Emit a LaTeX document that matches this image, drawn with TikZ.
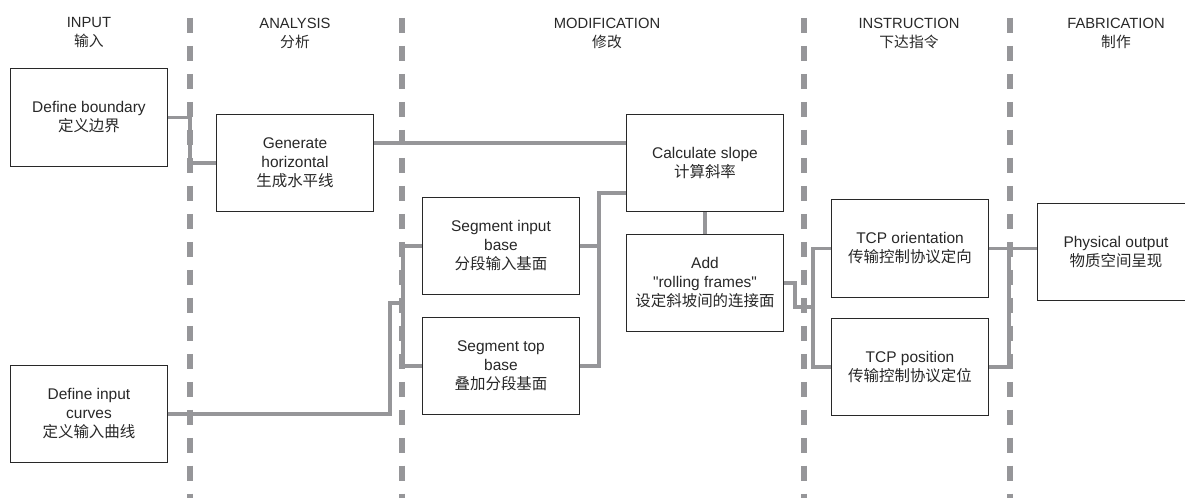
\documentclass[tikz,border=0pt]{standalone}
\usepackage{fontspec}
\setmainfont{Liberation Sans}[Ligatures=TeXOff]
\newfontfamily\cjk{Noto Sans CJK SC}
\usepackage{xcolor}
\definecolor{wiregray}{RGB}{150,150,153}
\definecolor{inkgray}{RGB}{40,40,40}

\begin{document}
\begin{tikzpicture}[
			x=0.025cm, y=-0.025cm,
			font=\fontsize{11}{13.5}\selectfont,
			box/.style={draw=inkgray, line width=0.7pt, text=inkgray, fill=white,
				minimum width=3.9cm, minimum height=2.44cm, align=center, inner sep=0pt},
			head/.style={text=inkgray, align=center, font=\fontsize{10.5}{13.5}\selectfont},
			wire/.style={draw=wiregray, line width=2.8pt},
			sep/.style={draw=wiregray, line width=3.6pt, dash pattern=on 10.6pt off 9.3pt}
		]

		\useasboundingbox (0,0) rectangle (1185,498);
		\clip (0,0) rectangle (1185,498);

		%% Stage separators
		\foreach \x in {190,402,804,1010}
			\draw[sep] (\x,18) -- (\x,498);

		%% Stage headings
		\node[head] (hin)  at (89,33)   {INPUT\\{\cjk 输入}};
		\node[head] (han)  at (295,33)  {ANALYSIS\\{\cjk 分析}};
		\node[head] (hmod) at (607,33)  {MODIFICATION\\{\cjk 修改}};
		\node[head] (hins) at (909,33)  {INSTRUCTION\\{\cjk 下达指令}};
		\node[head] (hfab) at (1116,33) {FABRICATION\\{\cjk 制作}};

		%% 1. Input
		\node[box] (defb) at (89,117.5) {Define boundary\\{\cjk 定义边界}};
		\node[box] (defc) at (89,414)   {Define input\\curves\\{\cjk 定义输入曲线}};

		%% 2. Analysis
		\node[box] (genh) at (295,163) {Generate\\horizontal\\{\cjk 生成水平线}};

		%% 3. Modification
		\node[box] (segi) at (501,246) {Segment input\\base\\{\cjk 分段输入基面}};
		\node[box] (segt) at (501,366) {Segment top\\base\\{\cjk 叠加分段基面}};
		\node[box] (calc) at (705,163) {Calculate slope\\{\cjk 计算斜率}};
		\node[box] (addr) at (705,283) {Add\\"rolling frames"\\{\cjk 设定斜坡间的连接面}};

		%% 4. Instruction
		\node[box] (tcpo) at (910,248.5) {TCP orientation\\{\cjk 传输控制协议定向}};
		\node[box] (tcpp) at (910,367)   {TCP position\\{\cjk 传输控制协议定位}};

		%% 5. Fabrication (box runs off the right edge)
		\node[box] (phys) at (1116,252) {Physical output\\{\cjk 物质空间呈现}};

		%% Bends and buses
		\coordinate (jA) at (190,140);
		\coordinate (jB) at (500,143);
		\coordinate (jC) at (390,303);
		\coordinate (jL) at (403,303);
		\coordinate (jR) at (599,193);
		\coordinate (jD) at (795,307);
		\coordinate (jI) at (813,307);
		\coordinate (jF) at (1009,248);

		%% Connectors
		\draw[wire] (defb.east) -| (jA) |- (genh.west);
		\draw[wire] (genh.east |- jB) -- (calc.west |- jB);
		\draw[wire] (segi.west) -| (jL) |- (segt.west);
		\draw[wire] (defc.east) -| (jC) -- (jL);
		\draw[wire] (segt.east) -| (jR) -- (jR -| calc.west);
		\draw[wire] (segi.east) -- (segi.east -| jR);
		\draw[wire] (calc) -- (addr);
		\draw[wire] (addr.east) -| (jD) -- (jI);
		\draw[wire] (tcpo.west) -| (jI) |- (tcpp.west);
		\draw[wire] (tcpo.east) -- (tcpo.east -| phys.west);
		\draw[wire] (tcpp.east) -| (jF);

		\end{tikzpicture}
\end{document}
